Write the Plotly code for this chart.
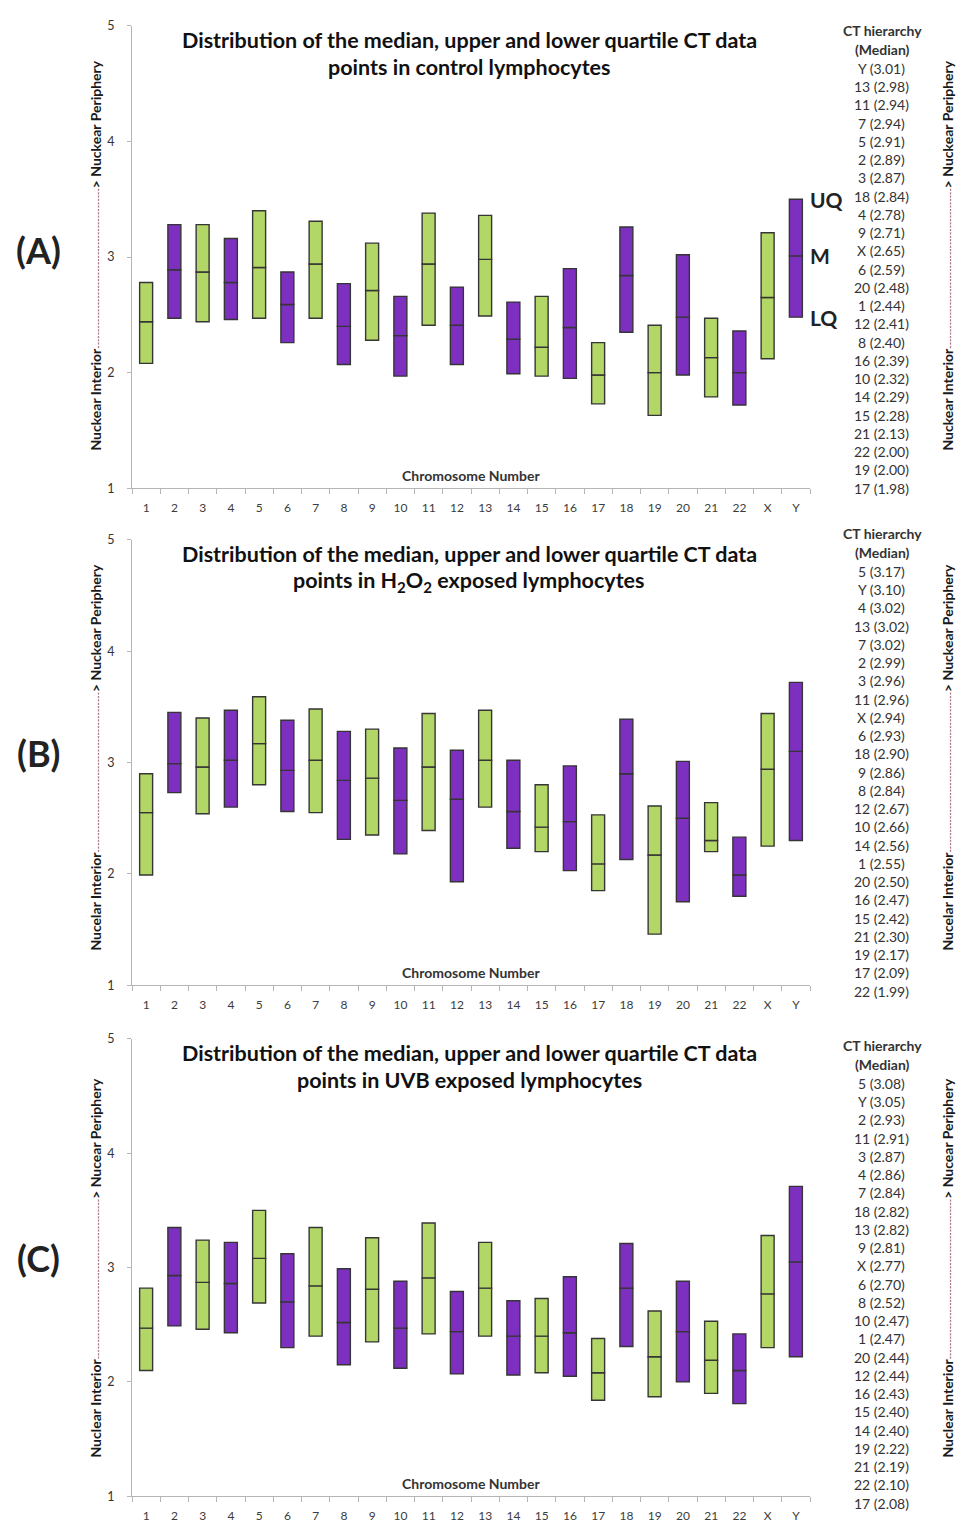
import plotly.graph_objects as go

W, H = 964, 1532

cats = [str(i) for i in range(1, 23)] + ["X", "Y"]

# Panel A: control
A_lq = [2.08, 2.47, 2.44, 2.46, 2.47, 2.26, 2.47, 2.07, 2.28, 1.97, 2.41, 2.07, 2.49, 1.99, 1.97, 1.95, 1.73, 2.35, 1.63, 1.98, 1.79, 1.72, 2.12, 2.48]
A_med = [2.44, 2.89, 2.87, 2.78, 2.91, 2.59, 2.94, 2.40, 2.71, 2.32, 2.94, 2.41, 2.98, 2.29, 2.22, 2.39, 1.98, 2.84, 2.00, 2.48, 2.13, 2.00, 2.65, 3.01]
A_uq = [2.78, 3.28, 3.28, 3.16, 3.40, 2.87, 3.31, 2.77, 3.12, 2.66, 3.38, 2.74, 3.36, 2.61, 2.66, 2.90, 2.26, 3.26, 2.41, 3.02, 2.47, 2.36, 3.21, 3.50]

# Panel B: H2O2
B_lq = [1.99, 2.73, 2.54, 2.60, 2.80, 2.56, 2.55, 2.31, 2.35, 2.18, 2.39, 1.93, 2.60, 2.23, 2.20, 2.03, 1.85, 2.13, 1.46, 1.75, 2.20, 1.80, 2.25, 2.30]
B_med = [2.55, 2.99, 2.96, 3.02, 3.17, 2.93, 3.02, 2.84, 2.86, 2.66, 2.96, 2.67, 3.02, 2.56, 2.42, 2.47, 2.09, 2.90, 2.17, 2.50, 2.30, 1.99, 2.94, 3.10]
B_uq = [2.90, 3.45, 3.40, 3.47, 3.59, 3.38, 3.48, 3.28, 3.30, 3.13, 3.44, 3.11, 3.47, 3.02, 2.80, 2.97, 2.53, 3.39, 2.61, 3.01, 2.64, 2.33, 3.44, 3.72]

# Panel C: UVB
C_lq = [2.10, 2.49, 2.46, 2.43, 2.69, 2.30, 2.40, 2.15, 2.35, 2.12, 2.42, 2.07, 2.40, 2.06, 2.08, 2.05, 1.84, 2.31, 1.87, 2.00, 1.90, 1.81, 2.30, 2.22]
C_med = [2.47, 2.93, 2.87, 2.86, 3.08, 2.70, 2.84, 2.52, 2.81, 2.47, 2.91, 2.44, 2.82, 2.40, 2.40, 2.43, 2.08, 2.82, 2.22, 2.44, 2.19, 2.10, 2.77, 3.05]
C_uq = [2.82, 3.35, 3.24, 3.22, 3.50, 3.12, 3.35, 2.99, 3.26, 2.88, 3.39, 2.79, 3.22, 2.71, 2.73, 2.92, 2.38, 3.21, 2.62, 2.88, 2.53, 2.42, 3.28, 3.71]

# CT hierarchy lists (as printed)
hierA_chr = ["Y", "13", "11", "7", "5", "2", "3", "18", "4", "9", "X", "6", "20", "1", "12", "8", "16", "10", "14", "15", "21", "22", "19", "17"]
hierA_val = [3.01, 2.98, 2.94, 2.94, 2.91, 2.89, 2.87, 2.84, 2.78, 2.71, 2.65, 2.59, 2.48, 2.44, 2.41, 2.40, 2.39, 2.32, 2.29, 2.28, 2.13, 2.00, 2.00, 1.98]
hierB_chr = ["5", "Y", "4", "13", "7", "2", "3", "11", "X", "6", "18", "9", "8", "12", "10", "14", "1", "20", "16", "15", "21", "19", "17", "22"]
hierB_val = [3.17, 3.10, 3.02, 3.02, 3.02, 2.99, 2.96, 2.96, 2.94, 2.93, 2.90, 2.86, 2.84, 2.67, 2.66, 2.56, 2.55, 2.50, 2.47, 2.42, 2.30, 2.17, 2.09, 1.99]
hierC_chr = ["5", "Y", "2", "11", "3", "4", "7", "18", "13", "9", "X", "6", "8", "10", "1", "20", "12", "16", "15", "14", "19", "21", "22", "17"]
hierC_val = [3.08, 3.05, 2.93, 2.91, 2.87, 2.86, 2.84, 2.82, 2.82, 2.81, 2.77, 2.70, 2.52, 2.47, 2.47, 2.44, 2.44, 2.43, 2.40, 2.40, 2.22, 2.19, 2.10, 2.08]

titles = [
    ("Distribution of the median, upper and lower quartile CT data", "points in control lymphocytes"),
    ("Distribution of the median, upper and lower quartile CT data", "points in H<sub>2</sub>O<sub>2</sub> exposed lymphocytes"),
    ("Distribution of the median, upper and lower quartile CT data", "points in UVB exposed lymphocytes"),
]
panel_tags = ["(A)", "(B)", "(C)"]
side_words = [
    ("Nuckear Interior", "Nuckear Periphery", "Nuckear Interior", "Nuckear Periphery"),
    ("Nucelar Interior", "Nuckear Periphery", "Nucelar Interior", "Nuckear Periphery"),
    ("Nuclear Interior", "Nucear Periphery", "Nuclear Interior", "Nucear Periphery"),
]

GREEN = "#B3D766"
PURPLE = "#7D2FBF"
EDGE = "#353535"
FONT = "Lato"
colors = [GREEN if i % 2 == 0 else PURPLE for i in range(len(cats))]

def px_x(p):
    return p / W

def px_y(p):
    return 1 - p / H

# pixel geometry of each panel: (top of y=5, bottom y=1)
panels = [(18, 485), (537, 987), (1041, 1503)]
x_left, x_right = 132, 810

data = [(A_lq, A_med, A_uq), (B_lq, B_med, B_uq), (C_lq, C_med, C_uq)]
hiers = [(hierA_chr, hierA_val), (hierB_chr, hierB_val), (hierC_chr, hierC_val)]
hier_top = [23, 531, 1048]
side_mid = [250, 757, 1273]
tag_y = [244, 752, 1262]

fig = go.Figure()
annotations = []
layout_axes = {}

for k, ((lq, med, uq), (ptop, pbot)) in enumerate(zip(data, panels)):
    xa = "x" if k == 0 else f"x{k+1}"
    ya = "y" if k == 0 else f"y{k+1}"
    lower_h = [m - l for l, m in zip(lq, med)]
    upper_h = [u - m for m, u in zip(med, uq)]
    for base, hgt in ((lq, lower_h), (med, upper_h)):
        fig.add_trace(go.Bar(
            x=cats, y=hgt, base=base, width=0.46,
            marker=dict(color=colors, line=dict(color=EDGE, width=1.4)),
            xaxis=xa, yaxis=ya, showlegend=False, hoverinfo="skip",
        ))
    xname = "xaxis" if k == 0 else f"xaxis{k+1}"
    yname = "yaxis" if k == 0 else f"yaxis{k+1}"
    layout_axes[xname] = dict(
        domain=[px_x(x_left), px_x(x_right)], anchor=ya,
        type="category", categoryorder="array", categoryarray=cats,
        range=[-0.5, len(cats) - 0.5],
        showline=True, linecolor="#b5b5b5", linewidth=1,
        ticks="outside", ticklen=5, tickcolor="#b5b5b5", tickson="boundaries",
        showgrid=False, zeroline=False, ticklabelstandoff=8,
        tickfont=dict(family=FONT, size=12, color="#3c3c3c"),
    )
    layout_axes[yname] = dict(
        domain=[px_y(pbot), px_y(ptop)], anchor=xa,
        range=[1, 5], tickvals=[1, 2, 3, 4, 5],
        showline=True, linecolor="#b5b5b5", linewidth=1,
        ticks="outside", ticklen=4, tickcolor="#b5b5b5",
        showgrid=False, zeroline=False, ticklabelstandoff=10,
        tickfont=dict(family=FONT, size=12.5, color="#333333"),
    )

    # title (two lines)
    t1, t2 = titles[k]
    for j, t in enumerate((t1, t2)):
        annotations.append(dict(
            text=f"<b>{t}</b>", x=px_x(469), y=px_y(ptop + 14 + 28 * j),
            xref="paper", yref="paper", showarrow=False,
            xanchor="center", yanchor="middle",
            font=dict(family=FONT, size=21.5, color="#111111"),
        ))
    # x-axis title inside plot
    annotations.append(dict(
        text="<b>Chromosome Number</b>", x=px_x(471), y=px_y(pbot - 13),
        xref="paper", yref="paper", showarrow=False,
        xanchor="center", yanchor="middle",
        font=dict(family=FONT, size=14, color="#333333"),
    ))
    # panel tag
    annotations.append(dict(
        text=f"<b>{panel_tags[k]}</b>", x=px_x(38), y=px_y(tag_y[k]),
        xref="paper", yref="paper", showarrow=False,
        xanchor="center", yanchor="middle",
        font=dict(family=FONT, size=36, color="#222222"),
    ))
    # rotated side labels
    li, lp, ri, rp = side_words[k]
    dash = "-" * 48
    for (xx, wi, wp) in ((96, li, lp), (948, ri, rp)):
        txt = (f"<b>{wi}</b><span style='font-size:9px;color:#6e3a2c'>{dash}</span>"
               f"<b>&gt; {wp}</b>")
        annotations.append(dict(
            text=txt, x=px_x(xx), y=px_y(side_mid[k]), textangle=-90,
            xref="paper", yref="paper", showarrow=False,
            xanchor="center", yanchor="middle",
            font=dict(family=FONT, size=14, color="#1a1a1a"),
        ))
    # hierarchy list
    hc, hv = hiers[k]
    ht = hier_top[k]
    annotations.append(dict(
        text="<b>CT hierarchy</b>", x=px_x(882), y=px_y(ht),
        xref="paper", yref="paper", showarrow=False,
        xanchor="center", yanchor="middle",
        font=dict(family=FONT, size=14, color="#333333"),
    ))
    annotations.append(dict(
        text="<b>(Median)</b>", x=px_x(882), y=px_y(ht + 19),
        xref="paper", yref="paper", showarrow=False,
        xanchor="center", yanchor="middle",
        font=dict(family=FONT, size=14, color="#333333"),
    ))
    for i, (c, v) in enumerate(zip(hc, hv)):
        annotations.append(dict(
            text=f"{c} ({v:.2f})", x=px_x(881), y=px_y(ht + 38 + 18.43 * i),
            xref="paper", yref="paper", showarrow=False,
            xanchor="center", yanchor="middle",
            font=dict(family=FONT, size=14, color="#333333"),
        ))

# UQ / M / LQ key next to the Y box of panel A
for lab, val in (("UQ", A_uq[-1]), ("M", A_med[-1]), ("LQ", A_lq[-1])):
    annotations.append(dict(
        text=f"<b>{lab}</b>", x="Y", y=val, xref="x", yref="y",
        showarrow=False, xanchor="left", yanchor="middle", xshift=12,
        font=dict(family=FONT, size=21, color="#222222"),
    ))

fig.update_layout(
    width=W, height=H, autosize=False,
    margin=dict(l=0, r=0, t=0, b=0),
    paper_bgcolor="white", plot_bgcolor="white",
    barmode="overlay", showlegend=False,
    annotations=annotations,
    **layout_axes,
)

fig.write_html(
    "out.html",
    config={"displayModeBar": False},
    post_script="document.body.style.margin='0';document.body.style.overflow='hidden';",
)
